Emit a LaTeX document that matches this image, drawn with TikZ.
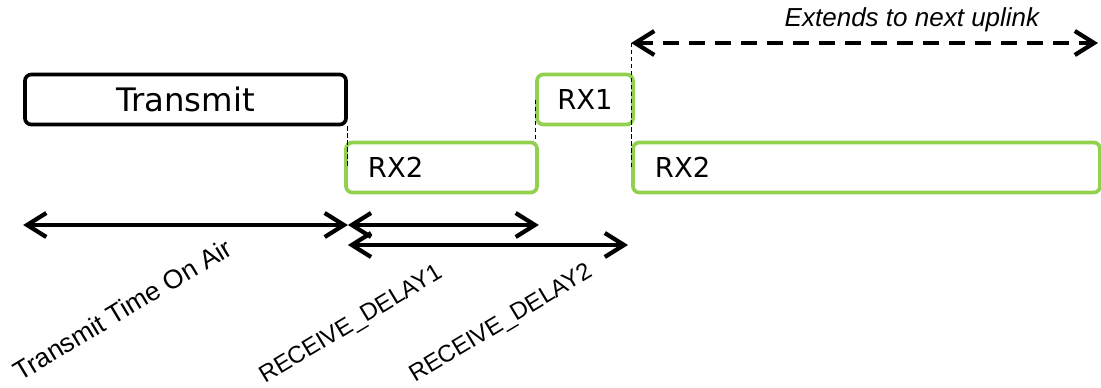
\documentclass[tikz,border=0pt]{standalone}
\usepackage{fontspec}
\usepackage{tikz}
\usetikzlibrary{arrows.meta}
\newfontfamily\boxfont{DejaVu Sans}
\newfontfamily\lblfont{Liberation Sans}
\definecolor{rxgreen}{RGB}{146,208,80}

\begin{document}
\begin{tikzpicture}[x=0.025cm, y=-0.025cm, >={Straight Barb[length=4.8mm,width=6mm]},
        txbox/.style={draw=black, line width=2.6pt, rounded corners=4.5pt, minimum width=8.025cm, minimum height=1.25cm, font=\boxfont\fontsize{23}{26}\selectfont},
        rxbox/.style={draw=rxgreen, line width=2.6pt, rounded corners=4.5pt, minimum height=1.25cm, inner xsep=0.55cm, align=left, font=\boxfont\fontsize{19.5}{22}\selectfont},
        span/.style={<->, line width=3pt},
        guide/.style={line width=0.8pt, dash pattern=on 3pt off 2pt},
        tilted/.style={rotate=31, anchor=base west, inner sep=0pt, font=\lblfont\fontsize{17}{20}\selectfont}]
            \useasboundingbox (0,0) rectangle (1101,388);
            % windows
            \node[txbox] (tx) at (185.5,99.5) {Transmit};
            \node[rxbox, text width=3.675cm] (rx2a) at (441.5,167.5) {RX2};
            \node[rxbox, minimum width=2.4cm, inner xsep=0pt, align=center] (rx1) at (585,99.5) {RX1};
            \node[rxbox, text width=10.575cm] (rx2b) at (866.5,167.5) {RX2};
            % guides
            \draw[guide] (tx.south east) -- (tx.east |- rx2a.center);
            \draw[guide] (rx1.west) -- (rx1.west |- rx2a.north);
            \coordinate (up0) at (rx2b.west |- 0,43);
            \coordinate (up1) at (1098,43);
            \draw[guide] (up0) -- (rx2b.west);
            \draw[span, dash pattern=on 0.4cm off 0.25cm] (up0) -- (up1);
            \node[font=\lblfont\itshape\fontsize{18.5}{21}\selectfont] (uplbl) at (912,20) {Extends to next uplink};
            % delays
            \coordinate (s0) at (tx.west |- 0,225);
            \coordinate (s1) at (tx.east |- 0,225);
            \coordinate (s2) at (rx2a.east |- 0,225);
            \coordinate (s3) at (tx.east |- 0,245);
            \coordinate (s4) at (628,245);
            \draw[span] (s0) -- (s1);
            \draw[span] (s1) -- (s2);
            \draw[span] (s3) -- (s4);
            \node[tilted, font=\lblfont\fontsize{18.8}{21}\selectfont] (toa) at (20,382) {Transmit Time On Air};
            \node[tilted] (rd1) at (265,384) {RECEIVE\_DELAY1};
            \node[tilted] (rd2) at (415,383) {RECEIVE\_DELAY2};
        \end{tikzpicture}
\end{document}
